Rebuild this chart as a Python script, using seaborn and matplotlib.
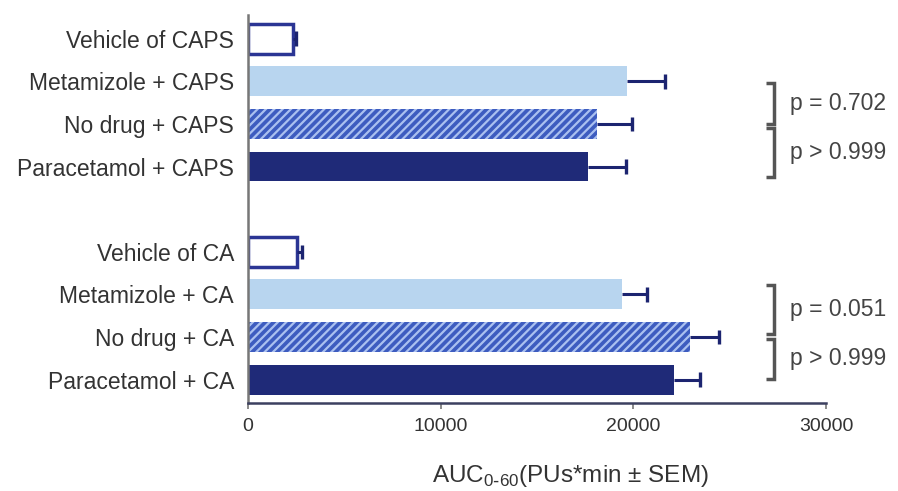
import pandas as pd
import matplotlib
matplotlib.use("Agg")
import matplotlib.pyplot as plt
import seaborn as sns

# Values
labels = ["Vehicle of CAPS", "Metamizole + CAPS", "No drug + CAPS", "Paracetamol + CAPS",
          "Vehicle of CA", "Metamizole + CA", "No drug + CA", "Paracetamol + CA"]
kinds = ["vehicle", "metamizole", "nodrug", "paracetamol",
         "vehicle", "metamizole", "nodrug", "paracetamol"]
means = [2350, 19650, 18100, 17650, 2550, 19400, 22950, 22100]
sems = [150, 2000, 1830, 1970, 250, 1300, 1500, 1350]
x_ticks = [0, 10000, 20000, 30000]

# p-value brackets: (top, bottom) in bar slots, and text
brackets = [(1.05, 2.0, "p = 0.702"), (2.1, 3.24, "p > 0.999"),
            (5.77, 6.93, "p = 0.051"), (7.05, 7.98, "p > 0.999")]

df = pd.DataFrame({"label": labels, "kind": kinds, "auc": means, "sem": sems})
order = labels[:4] + [" "] + labels[4:]

styles = {
    "vehicle": dict(fc="white", ec="#2b3594", lw=2.5, hatch=None),
    "metamizole": dict(fc="#b8d5ef", ec="#b8d5ef", lw=0, hatch=None),
    "nodrug": dict(fc="#3d5cc0", ec="#aac0f0", lw=0, hatch="////"),
    "paracetamol": dict(fc="#1f2a78", ec="#1f2a78", lw=0, hatch=None),
}

sns.set_style("white")
plt.rcParams["font.family"] = ["Liberation Sans", "DejaVu Sans"]
plt.rcParams["hatch.linewidth"] = 1.6

fig = plt.figure(figsize=(8.98, 4.91), dpi=100)
ax = fig.add_axes([0.276, 0.179, 0.644, 0.79])

sns.barplot(data=df, x="auc", y="label", order=order, orient="h",
            width=0.7, errorbar=None, color="#1f2a78", ax=ax)

# style each bar by its position
kind_of = dict(zip(labels, kinds))
for p in ax.patches:
    idx = int(round(p.get_y() + p.get_height() / 2))
    st = styles[kind_of[order[idx]]]
    p.set_facecolor(st["fc"])
    p.set_edgecolor(st["ec"])
    p.set_linewidth(st["lw"])
    if st["hatch"]:
        p.set_hatch(st["hatch"])

# one-sided SEM error bars
ypos = [order.index(l) for l in labels]
ends = [m + s for m, s in zip(means, sems)]
err_c = "#1c2470"
ax.hlines(ypos, means, ends, color=err_c, lw=2.2, zorder=3)
ax.vlines(ends, [y - 0.17 for y in ypos], [y + 0.17 for y in ypos], color=err_c, lw=2.4, zorder=3)

ax.set_xlim(0, 30000)
ax.set_ylim(8.55, -0.55)
ax.set_xticks(x_ticks)
ax.set_xticklabels([str(t) for t in x_ticks], fontsize=14, color="#333333")
ax.tick_params(axis="x", length=4, width=1.2, color="#777777", pad=7, direction="out", bottom=True)
ax.tick_params(axis="y", length=0, labelsize=16.5, labelcolor="#333333", pad=10)
ax.set_ylabel("")
ax.set_xlabel(r"AUC$_{\mathregular{0\text{-}60}}$(PUs*min ± SEM)", fontsize=17.5, color="#333333")
ax.xaxis.set_label_coords(0.557, -0.155)

sns.despine(ax=ax, top=True, right=True)
ax.spines["left"].set_color("#777777")
ax.spines["left"].set_linewidth(1.8)
ax.spines["bottom"].set_color("#3c4060")
ax.spines["bottom"].set_linewidth(1.8)

# significance brackets
bx, bt, tx = 27300, 26900, 28100
for top, bot, txt in brackets:
    ax.plot([bt, bx, bx, bt], [top, top, bot, bot], color="#555555", lw=2.5,
            clip_on=False, solid_capstyle="butt", solid_joinstyle="miter")
    ax.text(tx, (top + bot) / 2, txt, fontsize=16.5, color="#444444",
            va="center", ha="left", clip_on=False)

fig.savefig("out.png", dpi=100)
